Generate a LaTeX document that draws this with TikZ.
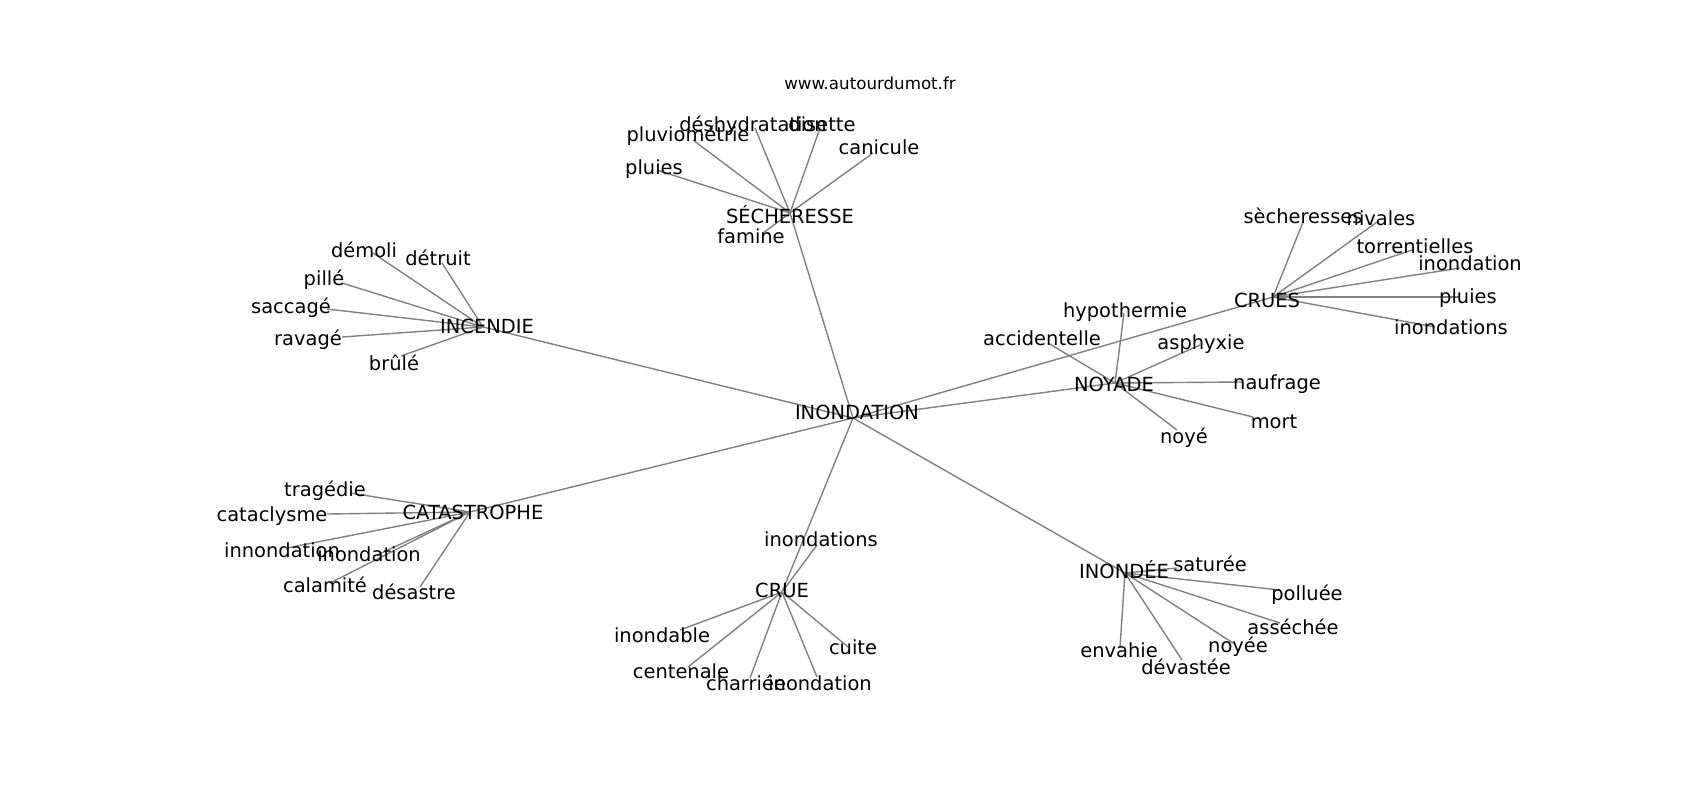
\documentclass[tikz,border=0pt]{standalone}
\usepackage{fontspec}
\setmainfont{DejaVu Sans}
\begin{document}
\begin{tikzpicture}[x=0.72pt,y=-0.72pt,
  lbl/.style={inner sep=0pt,text height=0.76em,text depth=0.236em,anchor=center,yshift=-2.8pt,font=\fontsize{14}{17}\selectfont},
  ttl/.style={inner sep=0pt,text height=0.76em,text depth=0.236em,anchor=center,yshift=-2.8pt,font=\fontsize{12}{14}\selectfont},
  edge/.style={draw=gray,line width=1pt}]
\useasboundingbox[fill=white] (0,0) rectangle (1700,800);
% title
\node[ttl] (title) at (870,82) {www.autourdumot.fr};
% hub points
\coordinate (pINON) at (853,418);
\coordinate (pSECH) at (790,213);
\coordinate (pINCE) at (483,327);
\coordinate (pCATA) at (470,512);
\coordinate (pCRUE) at (782,592);
\coordinate (pINDE) at (1125,573);
\coordinate (pNOYA) at (1115,383);
\coordinate (pCRUES) at (1273,297);
% leaf points
\coordinate (pfam) at (763,233);
\coordinate (pplu1) at (657,170);
\coordinate (ppluv) at (693,140);
\coordinate (pdesh) at (755,128);
\coordinate (pdis) at (820,128);
\coordinate (pcan) at (873,153);
\coordinate (pdem) at (373,253);
\coordinate (pdet) at (442,263);
\coordinate (ppil) at (342,283);
\coordinate (psac) at (327,309);
\coordinate (prav) at (342,337);
\coordinate (pbru) at (401,356);
\coordinate (psec) at (1303,222);
\coordinate (pniv) at (1377,222);
\coordinate (ptor) at (1412,250);
\coordinate (pinoC) at (1460,268);
\coordinate (pplu2) at (1460,297);
\coordinate (pinosC) at (1435,327);
\coordinate (phyp) at (1124,313);
\coordinate (pacc) at (1048,343);
\coordinate (pasp) at (1200,345);
\coordinate (pnau) at (1243,382);
\coordinate (pmor) at (1253,417);
\coordinate (pnoy) at (1177,430);
\coordinate (ptra) at (350,493);
\coordinate (pcat) at (327,514);
\coordinate (pinn) at (287,548);
\coordinate (pinoK) at (377,555);
\coordinate (pcal) at (330,583);
\coordinate (pdesa) at (420,587);
\coordinate (pinosR) at (817,545);
\coordinate (pinab) at (680,630);
\coordinate (pcen) at (688,667);
\coordinate (pcha) at (750,678);
\coordinate (pinoR) at (817,677);
\coordinate (pcui) at (848,647);
\coordinate (psat) at (1177,568);
\coordinate (ppol) at (1280,590);
\coordinate (pass) at (1280,623);
\coordinate (pnoye) at (1233,643);
\coordinate (penv) at (1120,647);
\coordinate (pdev) at (1182,660);
% edges
\draw[edge] (pINON) -- (pSECH);
\draw[edge] (pINON) -- (pINCE);
\draw[edge] (pINON) -- (pCATA);
\draw[edge] (pINON) -- (pCRUE);
\draw[edge] (pINON) -- (pINDE);
\draw[edge] (pINON) -- (pNOYA);
\draw[edge] (pINON) -- (pCRUES);
\foreach \l in {pfam,pplu1,ppluv,pdesh,pdis,pcan} \draw[edge] (pSECH) -- (\l);
\foreach \l in {pdem,pdet,ppil,psac,prav,pbru} \draw[edge] (pINCE) -- (\l);
\foreach \l in {psec,pniv,ptor,pinoC,pplu2,pinosC} \draw[edge] (pCRUES) -- (\l);
\foreach \l in {phyp,pacc,pasp,pnau,pmor,pnoy} \draw[edge] (pNOYA) -- (\l);
\foreach \l in {ptra,pcat,pinn,pinoK,pcal,pdesa} \draw[edge] (pCATA) -- (\l);
\foreach \l in {pinosR,pinab,pcen,pcha,pinoR,pcui} \draw[edge] (pCRUE) -- (\l);
\foreach \l in {psat,ppol,pass,pnoye,penv,pdev} \draw[edge] (pINDE) -- (\l);
% hub labels
\node[lbl] (INON) at (857,412) {INONDATION};
\node[lbl] (SECH) at (790,216) {SÉCHERESSE};
\node[lbl] (INCE) at (487,326) {INCENDIE};
\node[lbl] (CATA) at (473,512) {CATASTROPHE};
\node[lbl] (CRUE) at (782,590) {CRUE};
\node[lbl] (INDE) at (1124,571) {INONDÉE};
\node[lbl] (NOYA) at (1114,384) {NOYADE};
\node[lbl] (CRUES) at (1267,300) {CRUES};
% leaf labels
\node[lbl] (fam) at (751,236) {famine};
\node[lbl] (plu1) at (654,167) {pluies};
\node[lbl] (pluv) at (688,134) {pluviométrie};
\node[lbl] (desh) at (753,124) {déshydratation};
\node[lbl] (dis) at (822,124) {disette};
\node[lbl] (can) at (879,147) {canicule};
\node[lbl] (dem) at (364,250) {démoli};
\node[lbl] (det) at (438,258) {détruit};
\node[lbl] (pil) at (324,278) {pillé};
\node[lbl] (sac) at (291,306) {saccagé};
\node[lbl] (rav) at (308,338) {ravagé};
\node[lbl] (bru) at (394,363) {brûlé};
\node[lbl] (sec) at (1303,216) {sècheresses};
\node[lbl] (niv) at (1381,218) {nivales};
\node[lbl] (tor) at (1415,246) {torrentielles};
\node[lbl] (inoC) at (1470,263) {inondation};
\node[lbl] (plu2) at (1468,296) {pluies};
\node[lbl] (inosC) at (1451,327) {inondations};
\node[lbl] (hyp) at (1125,310) {hypothermie};
\node[lbl] (acc) at (1042,338) {accidentelle};
\node[lbl] (asp) at (1201,342) {asphyxie};
\node[lbl] (nau) at (1277,382) {naufrage};
\node[lbl] (mor) at (1274,421) {mort};
\node[lbl] (noy) at (1184,436) {noyé};
\node[lbl] (tra) at (325,489) {tragédie};
\node[lbl] (cat) at (272,514) {cataclysme};
\node[lbl] (inn) at (282,550) {innondation};
\node[lbl] (inoK) at (369,554) {inondation};
\node[lbl] (cal) at (325,585) {calamité};
\node[lbl] (desa) at (414,592) {désastre};
\node[lbl] (inosR) at (821,539) {inondations};
\node[lbl] (inab) at (662,635) {inondable};
\node[lbl] (cen) at (681,671) {centenale};
\node[lbl] (cha) at (746,683) {charriée};
\node[lbl] (inoR) at (820,683) {inondation};
\node[lbl] (cui) at (853,647) {cuite};
\node[lbl] (sat) at (1210,564) {saturée};
\node[lbl] (pol) at (1307,593) {polluée};
\node[lbl] (ass) at (1293,627) {asséchée};
\node[lbl] (noye) at (1238,645) {noyée};
\node[lbl] (env) at (1119,650) {envahie};
\node[lbl] (dev) at (1186,667) {dévastée};
\end{tikzpicture}
\end{document}
